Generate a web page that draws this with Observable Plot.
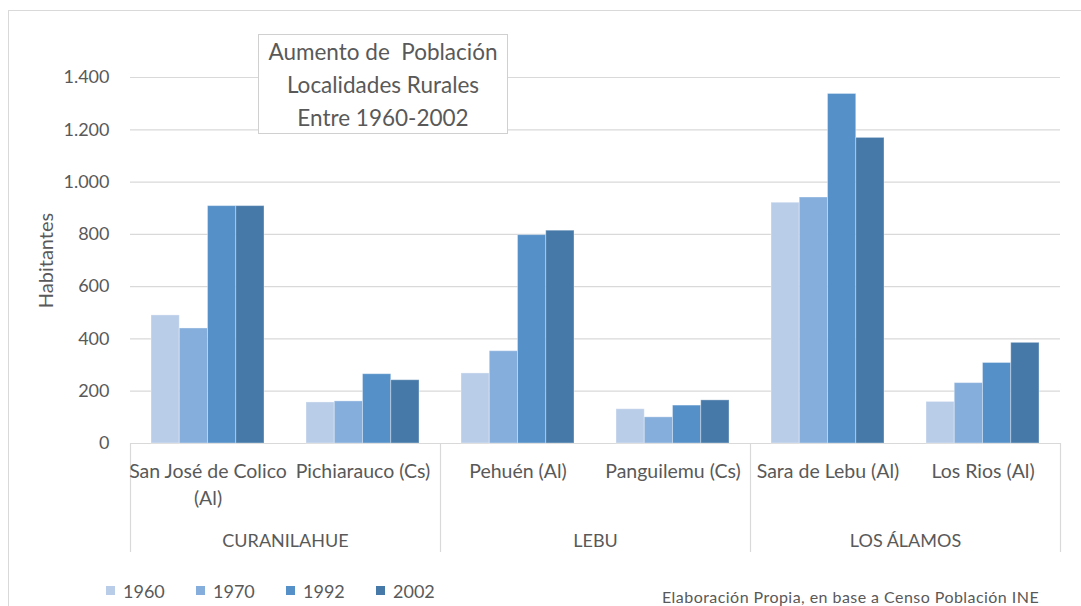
<!DOCTYPE html>
<html>
<head>
<meta charset="utf-8">
<script src="https://cdn.jsdelivr.net/npm/d3@7"></script>
<script src="https://cdn.jsdelivr.net/npm/@observablehq/plot@0.6"></script>
<style>
  html, body { margin: 0; padding: 0; background: #fff; }
  body { font-family: Lato, "Noto Sans", sans-serif; color: #595959; }
  #wrap { position: relative; width: 1081px; height: 606px; overflow: hidden; }
  #border { position: absolute; left: 8px; top: 10px; width: 1100px; height: 620px;
            border-left: 1px solid #D9D9D9; border-top: 1px solid #D9D9D9; }
  #chart { position: absolute; left: 0; top: 0; }
  #title { position: absolute; left: 258px; top: 34px; width: 248px; height: 98px;
           border: 1px solid #D0D0D0; background: #fff; text-align: center;
           font-size: 22.5px; line-height: 33px; padding-top: 0px; box-sizing: content-box;
           white-space: pre; color: #595959; }
  #legend { position: absolute; left: 106px; top: 578px; display: flex; font-size: 18px; }
  #legend .item { width: 90px; display: flex; align-items: center; height: 25px; }
  #legend .sw { width: 9px; height: 9px; margin-right: 8px; }
  #caption { position: absolute; left: 662px; top: 587px; font-size: 16px; letter-spacing: 0.45px; color: #595959; }
</style>
</head>
<body>
<div id="wrap">
  <div id="border"></div>
  <div id="chart"></div>
  <div id="title"></div>
  <div id="legend"></div>
  <div id="caption"></div>
</div>
<script>
// ---- data ----
const localities = ["San José de Colico (Al)", "Pichiarauco (Cs)", "Pehuén (Al)", "Panguilemu (Cs)", "Sara de Lebu (Al)", "Los Rios (Al)"];
const localityLabels = ["San José de Colico\n(Al)", "Pichiarauco (Cs)", "Pehuén (Al)", "Panguilemu (Cs)", "Sara de Lebu (Al)", "Los Rios (Al)"];
const communeOfLocality = ["CURANILAHUE", "CURANILAHUE", "LEBU", "LEBU", "LOS ÁLAMOS", "LOS ÁLAMOS"];
const communes = ["CURANILAHUE", "LEBU", "LOS ÁLAMOS"];
const years = ["1960", "1970", "1992", "2002"];
const values1960 = [490, 157, 268, 131, 921, 159];
const values1970 = [440, 161, 353, 100, 941, 231];
const values1992 = [908, 265, 797, 145, 1337, 308];
const values2002 = [908, 242, 814, 165, 1169, 385];
const yTicks = [0, 200, 400, 600, 800, 1000, 1200, 1400];
const titleText = "Aumento de  Población\nLocalidades Rurales\nEntre 1960-2002";
const yLabel = "Habitantes";
const captionText = "Elaboración Propia, en base a Censo Población INE";

// ---- styles ----
const yearColors = ["#B9CDE8", "#86AEDC", "#5590C8", "#4679A8"];
const gridColor = "#D9D9D9";

// ---- build table ----
const seriesValues = [values1960, values1970, values1992, values2002];
const barShare = 113 / 155;              // share of a category occupied by the bar cluster
const barW = barShare / years.length;
const pad = (1 - barShare) / 2;
const rows = [];
localities.forEach((loc, i) => {
  years.forEach((yr, j) => {
    rows.push({locality: loc, commune: communeOfLocality[i], year: yr, value: seriesValues[j][i],
               x1: i + pad + j * barW, x2: i + pad + (j + 1) * barW});
  });
});
const locRows = localities.map((loc, i) => ({label: localityLabels[i], pos: i + 0.5}));
const communeRows = communes.map(c => {
  const idx = communeOfLocality.map((d, i) => d === c ? i : -1).filter(i => i >= 0);
  return {name: c, pos: (d3.min(idx) + d3.max(idx) + 1) / 2};
});
const dividers = [0];
communes.forEach(c => {
  const idx = communeOfLocality.map((d, i) => d === c ? i : -1).filter(i => i >= 0);
  dividers.push(d3.max(idx) + 1);
});

const esFormat = d3.formatLocale({decimal: ",", thousands: ".", grouping: [3], currency: ["$", ""]}).format(",");

const chart = Plot.plot({
  width: 1081,
  height: 560,
  marginLeft: 130,
  marginRight: 21,
  marginTop: 77,
  marginBottom: 117,
  style: {fontFamily: "Lato, 'Noto Sans', sans-serif", fontSize: "18px", color: "#595959", background: "transparent", overflow: "visible"},
  x: {domain: [0, localities.length], axis: null},
  y: {domain: [0, 1400], axis: null},
  color: {domain: years, range: yearColors},
  marks: [
    Plot.ruleY(yTicks, {stroke: gridColor, strokeWidth: 1.2}),
    Plot.rectY(rows, {x1: "x1", x2: "x2", y1: 0, y2: "value", fill: "year", stroke: "white", strokeOpacity: 0.35, strokeWidth: 1}),
    Plot.axisY({ticks: yTicks, tickFormat: esFormat, tickSize: 0, tickPadding: 21, label: null, fontSize: 18}),
    Plot.text([yLabel], {frameAnchor: "left", textAnchor: "middle", rotate: -90, dx: -84, fontSize: 20, fill: "#595959"}),
    Plot.ruleX(dividers, {x: d => d, y1: () => 0, insetBottom: -109, stroke: gridColor, strokeWidth: 1.2}),
    Plot.text(locRows, {x: "pos", text: "label", frameAnchor: "bottom", lineAnchor: "top", dy: 16, lineHeight: 1.35, fontSize: 19.5, fill: "#595959"}),
    Plot.text(communeRows, {x: "pos", text: "name", frameAnchor: "bottom", dy: 103, fontSize: 18, fill: "#595959"})
  ]
});
document.getElementById("chart").appendChild(chart);

document.getElementById("title").textContent = titleText;
document.getElementById("caption").textContent = captionText;
const legend = document.getElementById("legend");
years.forEach((yr, j) => {
  const item = document.createElement("div");
  item.className = "item";
  const sw = document.createElement("span");
  sw.className = "sw";
  sw.style.background = yearColors[j];
  const t = document.createElement("span");
  t.textContent = yr;
  item.appendChild(sw);
  item.appendChild(t);
  legend.appendChild(item);
});
</script>
</body>
</html>
